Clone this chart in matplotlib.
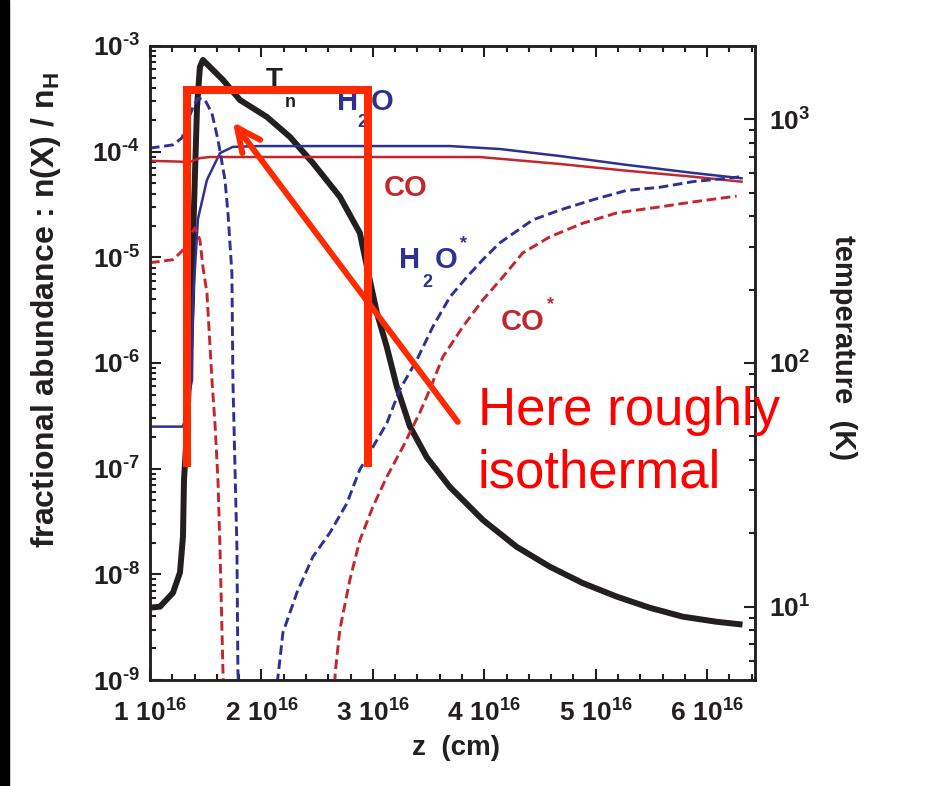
import matplotlib
matplotlib.use("Agg")
import numpy as np
import matplotlib.pyplot as plt
from matplotlib.patches import Rectangle
from matplotlib.ticker import LogLocator, MultipleLocator, NullFormatter

plt.rcParams['font.family'] = 'Liberation Sans'
plt.rcParams['font.weight'] = 'bold'
plt.rcParams['mathtext.fontset'] = 'custom'
plt.rcParams['mathtext.rm'] = 'Liberation Sans:bold'
plt.rcParams['mathtext.it'] = 'Liberation Sans:bold'
plt.rcParams['mathtext.bf'] = 'Liberation Sans:bold'

# z in units of 1e16 cm
t_z = [1.000, 1.090, 1.206, 1.269, 1.296, 1.305, 1.332, 1.377, 1.386, 1.404, 1.422,
       1.448, 1.475, 1.538, 1.655, 1.807, 2.049, 2.256, 2.462, 2.704, 2.883, 2.973,
       3.036, 3.126, 3.215, 3.332, 3.484, 3.691, 3.987, 4.291, 4.587, 4.883, 5.188,
       5.484, 5.780, 6.085, 6.318]
t_kelvin = [9.9, 10.0, 11.4, 13.8, 19.4, 33, 53, 182, 320, 603, 1124,
            1640, 1753, 1640, 1451, 1201, 1023, 847, 662, 481, 342, 219,
            161, 116, 80, 55, 41, 31, 22.7, 17.6, 14.6, 12.5, 11.0,
            9.9, 9.1, 8.67, 8.44]

h2o_z = [1.000, 1.296, 1.323, 1.350, 1.377, 1.386, 1.430, 1.511, 1.628, 1.744, 1.987,
         3.691, 4.139, 4.677, 5.278, 5.870, 6.309]
h2o = [2.5e-7, 2.5e-7, 3.2e-7, 5.0e-7, 6.9e-7, 3.9e-6, 2.3e-5, 5.4e-5, 9.7e-5, 1.11e-4, 1.13e-4,
       1.13e-4, 1.06e-4, 9.1e-5, 7.5e-5, 6.3e-5, 5.6e-5]

co_z = [1.000, 1.359, 1.448, 1.538, 3.960, 4.677, 5.278, 5.870, 6.309]
co = [8.2e-5, 8.0e-5, 8.7e-5, 8.9e-5, 8.9e-5, 7.65e-5, 6.6e-5, 5.8e-5, 5.2e-5]

# ice (dashed) curves, two branches each
h2o_ice_z1 = [1.000, 1.206, 1.287, 1.332, 1.386, 1.430, 1.493, 1.556, 1.610, 1.673, 1.700,
              1.735, 1.744, 1.762, 1.780, 1.789, 1.800]
h2o_ice1 = [1.08e-4, 1.16e-4, 1.35e-4, 1.87e-4, 2.65e-4, 3.2e-4, 3.1e-4, 2.3e-4, 1.3e-4, 5.4e-5, 2.6e-5,
            7.1e-6, 6.9e-7, 1.1e-7, 1.8e-8, 1.25e-9, 5e-10]
h2o_ice_z2 = [2.135, 2.145, 2.193, 2.318, 2.462, 2.614, 2.767, 2.883, 3.000, 3.126, 3.242,
              3.395, 3.538, 3.691, 3.843, 3.987, 4.139, 4.435, 4.677, 4.973, 5.278, 5.574,
              5.870, 6.175, 6.309]
h2o_ice2 = [5e-10, 1.0e-9, 2.8e-9, 6.7e-9, 1.47e-8, 2.47e-8, 4.7e-8, 9.8e-8, 1.6e-7, 2.7e-7, 5.6e-7,
            1.07e-6, 2.2e-6, 4.2e-6, 6.5e-6, 9.5e-6, 1.37e-5, 2.26e-5, 2.8e-5, 3.5e-5, 4.3e-5, 4.6e-5,
            5.2e-5, 5.6e-5, 5.8e-5]

co_ice_z1 = [1.000, 1.206, 1.296, 1.359, 1.404, 1.448, 1.475, 1.511, 1.556, 1.583, 1.610,
             1.628, 1.655, 1.665]
co_ice1 = [8.9e-6, 9.5e-6, 1.17e-5, 1.59e-5, 1.9e-5, 1.46e-5, 8.1e-6, 4.6e-6, 6.9e-7, 2.7e-7, 7.8e-8,
           1.8e-8, 1.2e-9, 5e-10]
co_ice_z2 = [2.650, 2.662, 2.704, 2.794, 2.883, 3.000, 3.126, 3.269, 3.422, 3.511, 3.628,
             3.807, 3.987, 4.166, 4.345, 4.587, 4.883, 5.188, 5.574, 5.870, 6.265]
co_ice2 = [5e-10, 1.17e-9, 3.0e-9, 8.9e-9, 2.1e-8, 4.35e-8, 8.4e-8, 1.6e-7, 3.4e-7, 5.6e-7, 1.14e-6,
           2.2e-6, 3.95e-6, 6.5e-6, 1.1e-5, 1.56e-5, 2.1e-5, 2.63e-5, 3.0e-5, 3.34e-5, 3.8e-5]

x_ticks = [1, 2, 3, 4, 5, 6]
x_tick_labels = [r'$%d\ 10^{16}$' % v for v in x_ticks]
left_ticks = [1e-9, 1e-8, 1e-7, 1e-6, 1e-5, 1e-4, 1e-3]
left_tick_labels = ['$10^{\u2010%d}$' % n for n in [9, 8, 7, 6, 5, 4, 3]]
right_ticks = [10, 100, 1000]
right_tick_labels = [r'$10^{1}$', r'$10^{2}$', r'$10^{3}$']

# annotation box (z, abundance) and arrow
box_z = [1.332, 1.332, 2.955, 2.955]
box_y = [1.04e-7, 3.84e-4, 3.84e-4, 1.04e-7]
arrow_tail = (3.762, 2.77e-7)
arrow_tip = (1.744, 1.91e-4)

BLUE = '#2e3192'
RED = '#c1272d'
INK = '#231f20'
MARK = '#ff2a00'

fig = plt.figure(figsize=(9.41, 7.86), dpi=100)
fig.add_artist(Rectangle((0, 0), 9 / 941, 1, transform=fig.transFigure, color='black'))

ax = fig.add_axes([150 / 941, 1 - 680 / 786, 605 / 941, 634 / 786])
ax2 = ax.twinx()
ax.set_zorder(ax2.get_zorder() + 1)
ax.patch.set_visible(False)

dash = (3.3, 1.6)
ax.plot(h2o_z, h2o, color=BLUE, lw=1.8)
ax.plot(co_z, co, color=RED, lw=1.8)
ax.plot(h2o_ice_z1, h2o_ice1, color=BLUE, lw=2.1, dashes=dash)
ax.plot(h2o_ice_z2, h2o_ice2, color=BLUE, lw=2.1, dashes=dash)
ax.plot(co_ice_z1, co_ice1, color=RED, lw=2.1, dashes=dash)
ax.plot(co_ice_z2, co_ice2, color=RED, lw=2.1, dashes=dash)

ax2.plot(t_z, t_kelvin, color=INK, lw=4.3, solid_capstyle='butt', solid_joinstyle='round')

ax.set_xlim(1, 6.43)
ax.set_yscale('log')
ax.set_ylim(1e-9, 1e-3)
ax2.set_yscale('log')
ax2.set_ylim(5, 2000)

ax.set_xticks(x_ticks)
ax.set_xticklabels(x_tick_labels)
ax.xaxis.set_minor_locator(MultipleLocator(0.2))
ax.set_yticks(left_ticks)
ax.set_yticklabels(left_tick_labels)
ax.yaxis.set_minor_locator(LogLocator(base=10, subs=np.arange(2, 10), numticks=20))
ax.yaxis.set_minor_formatter(NullFormatter())
ax2.set_yticks(right_ticks)
ax2.set_yticklabels(right_tick_labels)
ax2.yaxis.set_minor_locator(LogLocator(base=10, subs=np.arange(2, 10), numticks=20))
ax2.yaxis.set_minor_formatter(NullFormatter())

ax.tick_params(which='both', direction='in', width=1.5, color=INK, top=True, right=False,
               labelsize=19, labelcolor=INK)
ax.tick_params(which='major', length=8)
ax.tick_params(which='minor', length=4.5)
ax.tick_params(axis='x', pad=14)
ax.tick_params(axis='y', pad=7)
ax2.tick_params(which='both', direction='in', width=1.5, color=INK, labelsize=19, labelcolor=INK)
ax2.tick_params(which='major', length=8, pad=10)
ax2.tick_params(which='minor', length=4.5)
for a in (ax, ax2):
    for s in a.spines.values():
        s.set_linewidth(1.8)
        s.set_color(INK)

# curve labels
ax.text(2.035, 4.09e-4, 'T', color=INK, fontsize=20, va='baseline')
ax.text(2.205, 2.65e-4, 'n', color=INK, fontsize=13, va='baseline')
ax.text(2.680, 2.48e-4, 'H', color=BLUE, fontsize=21, va='baseline')
ax.text(2.860, 1.71e-4, '2', color=BLUE, fontsize=13, va='baseline')
ax.text(2.985, 2.48e-4, 'O', color=BLUE, fontsize=21, va='baseline')
ax.text(3.100, 3.81e-5, 'CO', color=RED, fontsize=21, va='baseline')
ax.text(3.236, 7.94e-6, 'H', color=BLUE, fontsize=21, va='baseline')
ax.text(3.442, 5.25e-6, '2', color=BLUE, fontsize=13, va='baseline')
ax.text(3.558, 7.94e-6, 'O', color=BLUE, fontsize=21, va='baseline')
ax.text(3.785, 1.63e-5, '*', color=BLUE, fontsize=13, va='top')
ax.text(4.150, 2.06e-6, 'CO', color=RED, fontsize=21, va='baseline')
ax.text(4.565, 4.31e-6, '*', color=RED, fontsize=13, va='top')

# red overlay annotation
ax.plot(box_z, box_y, color=MARK, lw=5.8, solid_joinstyle='miter', solid_capstyle='butt', zorder=5)
ax.annotate('', xy=arrow_tip, xytext=arrow_tail,
            arrowprops=dict(arrowstyle='->,head_length=1.7,head_width=0.8', color=MARK, lw=4.3,
                            shrinkA=0, shrinkB=0, mutation_scale=10), zorder=5)
ax.text(3.942, 2.6e-7, 'Here roughly', color='#ff0000', fontsize=38, fontweight='normal',
        va='baseline', ha='left', zorder=6)
ax.text(3.942, 6.58e-8, 'isothermal', color='#ff0000', fontsize=38, fontweight='normal',
        va='baseline', ha='left', zorder=6)

# axis titles
fig.text(46 / 941, 1 - 310 / 786, r'fractional abundance : n(X) / n$_{\mathrm{H}}$', rotation=90,
         ha='center', va='center', fontsize=23, color=INK)
fig.text(456 / 941, 1 - 748 / 786, 'z  (cm)', ha='center', va='center', fontsize=20, color=INK)
fig.text(843 / 941, 1 - 348 / 786, 'temperature  (K)', rotation=-90, ha='center', va='center',
         fontsize=21, color=INK)

fig.savefig('out.png', dpi=100)
